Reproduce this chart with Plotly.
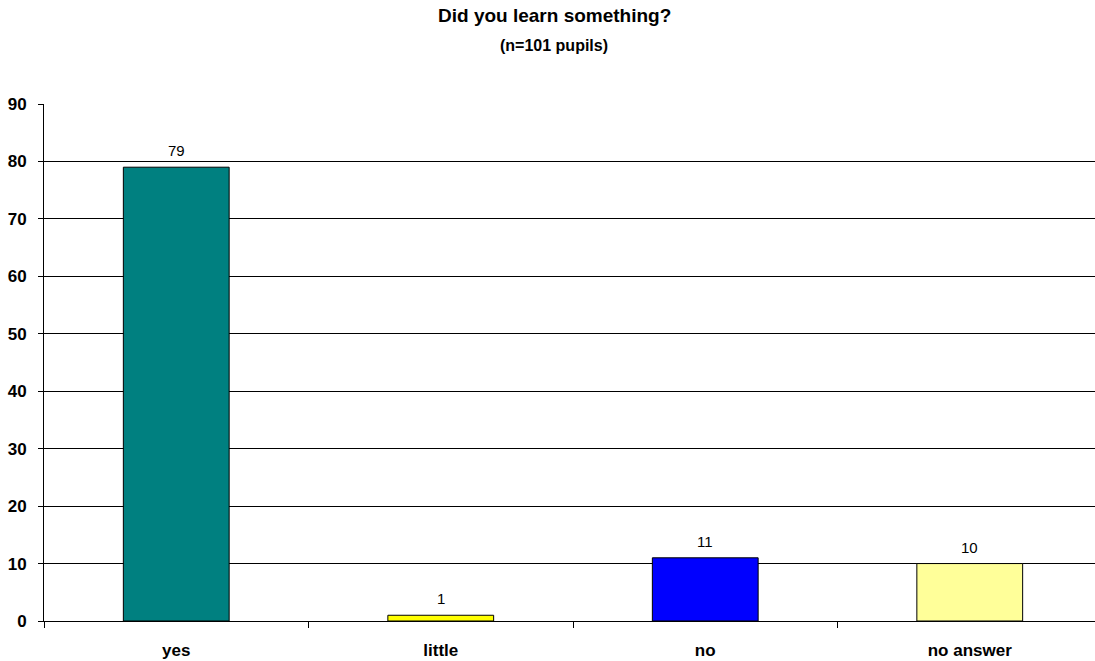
import plotly.graph_objects as go

categories = ["yes", "little", "no", "no answer"]
values = [79, 1, 11, 10]
bar_colors = ["#008080", "#FFFF00", "#0000FF", "#FFFF99"]
y_ticks = [0, 10, 20, 30, 40, 50, 60, 70, 80, 90]

FONT = "Liberation Sans, Arial"
W, H = 1095, 661
ML, MR, MT, MB = 44, 0, 104, 40
PW, PH = W - ML - MR, H - MT - MB


def px_x(px):
    return (px - ML) / PW


def px_y(py):
    return (H - MB - py) / PH


fig = go.Figure()
fig.add_trace(go.Bar(
    x=categories, y=values,
    marker=dict(color=bar_colors, line=dict(color="black", width=1)),
    cliponaxis=False,
))

for c, v in zip(categories, values):
    fig.add_annotation(
        x=c, y=v, xref="x", yref="y", text=str(v), showarrow=False,
        yanchor="bottom", yshift=6,
        font=dict(family=FONT, size=15, color="black"),
    )

fig.add_annotation(
    x=px_x(554), y=px_y(16), xref="paper", yref="paper",
    text="<b>Did you learn something?</b>", showarrow=False,
    xanchor="center", yanchor="middle",
    font=dict(family=FONT, size=19, color="black"),
)
fig.add_annotation(
    x=px_x(554), y=px_y(45), xref="paper", yref="paper",
    text="<b>(n=101 pupils)</b>", showarrow=False,
    xanchor="center", yanchor="middle",
    font=dict(family=FONT, size=16, color="black"),
)

fig.update_layout(
    width=W, height=H,
    margin=dict(l=ML, r=MR, t=MT, b=MB),
    paper_bgcolor="white", plot_bgcolor="white",
    bargap=0.6,
    showlegend=False,
    font=dict(family=FONT, color="black"),
    xaxis=dict(
        range=[-0.5, -0.5 + PW / 264.5],
        showline=True, linecolor="black", linewidth=1,
        ticks="outside", tickson="boundaries", ticklen=6, tickcolor="black",
        showgrid=False,
        tickfont=dict(size=17, family=FONT, color="black", weight="bold"),
        ticklabelstandoff=14,
    ),
    yaxis=dict(
        range=[0, 90], tickvals=y_ticks,
        showline=True, linecolor="black", linewidth=1,
        ticks="outside", ticklen=5, tickcolor="black",
        showgrid=True, gridcolor="black", gridwidth=1,
        zeroline=False,
        tickfont=dict(size=17, family=FONT, color="black", weight="bold"),
        ticklabelstandoff=8,
    ),
)

fig.write_html("out.html")
